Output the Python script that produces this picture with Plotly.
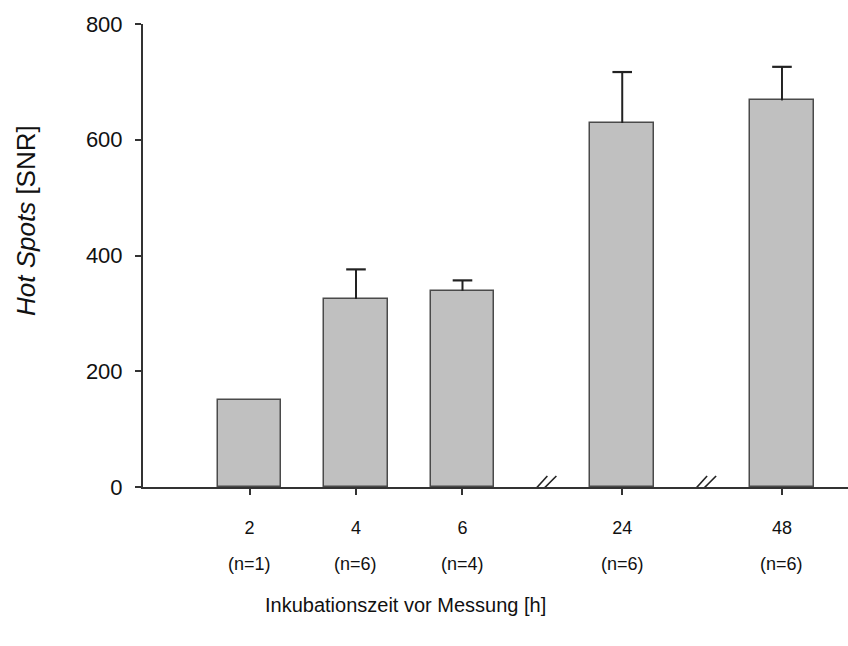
import plotly.graph_objects as go

# Incubation times before measurement [h], group sizes and SNR results
hours = ["2", "4", "6", "24", "48"]
group_sizes = ["(n=1)", "(n=6)", "(n=4)", "(n=6)", "(n=6)"]
positions = [0, 1, 2, 3.5, 5]          # broken time axis: equal steps, wider gap across breaks
snr_mean = [150, 325, 339, 629, 668]
snr_err = [0, 51, 18, 88, 58]          # upper SD only; n=1 has none

FONT = "Arial, 'Liberation Sans', sans-serif"
INK = "#111111"
AXIS = "#333333"
WHISKER = "#222222"

fig = go.Figure()
fig.add_trace(go.Bar(
    x=positions,
    y=snr_mean,
    width=0.6,
    marker=dict(color="#c0c0c0", line=dict(color="#4a4a4a", width=1.5)),
    error_y=dict(
        type="data",
        symmetric=False,
        array=snr_err,
        arrayminus=[0] * len(snr_err),
        color=WHISKER,
        thickness=2,
        width=0,
    ),
    showlegend=False,
))

# Caps only at the upper end of each whisker
cap_x = [p for p, e in zip(positions, snr_err) if e > 0]
cap_y = [m + e for m, e in zip(snr_mean, snr_err) if e > 0]
fig.add_trace(go.Scatter(
    x=cap_x, y=cap_y, mode="markers",
    marker=dict(symbol="line-ew", size=14, line=dict(color=WHISKER, width=2.2)),
    showlegend=False, hoverinfo="skip",
))

# Axis-break markers halfway between the groups on either side of each break
break_positions = [(positions[2] + positions[3]) / 2, (positions[3] + positions[4]) / 2]
for bx in break_positions:
    for dx0, dx1 in [(-15, 5), (-8, 14)]:
        fig.add_shape(
            type="line", xref="x", yref="y",
            xsizemode="pixel", ysizemode="pixel",
            xanchor=bx, yanchor=0,
            x0=dx0, x1=dx1, y0=-11, y1=11,
            line=dict(color="#222222", width=1.6),
        )

# Group sizes below the hour labels
for p, n in zip(positions, group_sizes):
    fig.add_annotation(
        x=p, xref="x", y=0, yref="y", yshift=-77,
        text=n, showarrow=False,
        font=dict(family=FONT, size=18, color=INK),
        xanchor="center", yanchor="middle",
    )

# Axis titles
fig.add_annotation(
    x=(405 - 143) / 705, xref="paper", y=0, yref="paper", yshift=-118,
    text="Inkubationszeit vor Messung [h]", showarrow=False,
    font=dict(family=FONT, size=20, color=INK),
    xanchor="center", yanchor="middle",
)
fig.add_annotation(
    x=0, xref="paper", xshift=-117, y=(487 - 221) / 463, yref="paper",
    text="<i>Hot Spots</i> [SNR]", textangle=-90, showarrow=False,
    font=dict(family=FONT, size=26, color=INK),
    xanchor="center", yanchor="middle",
)

fig.update_layout(
    width=848, height=646,
    margin=dict(l=143, r=0, t=24, b=159, pad=0),
    paper_bgcolor="white", plot_bgcolor="white",
    bargap=0,
    xaxis=dict(
        range=[-1.0, 5.62],
        tickvals=positions, ticktext=hours,
        ticks="outside", ticklen=6, tickwidth=1.5, tickcolor=AXIS,
        ticklabelstandoff=17,
        tickfont=dict(family=FONT, size=18, color=INK),
        showline=True, linecolor=AXIS, linewidth=2,
        showgrid=False, zeroline=False, fixedrange=True,
    ),
    yaxis=dict(
        range=[0, 800],
        tickvals=[0, 200, 400, 600, 800],
        ticks="outside", ticklen=6, tickwidth=1.5, tickcolor=AXIS,
        ticklabelstandoff=8,
        tickfont=dict(family=FONT, size=22, color=INK),
        showline=True, linecolor=AXIS, linewidth=2,
        showgrid=False, zeroline=False, fixedrange=True,
    ),
)

fig.write_html("out.html")
